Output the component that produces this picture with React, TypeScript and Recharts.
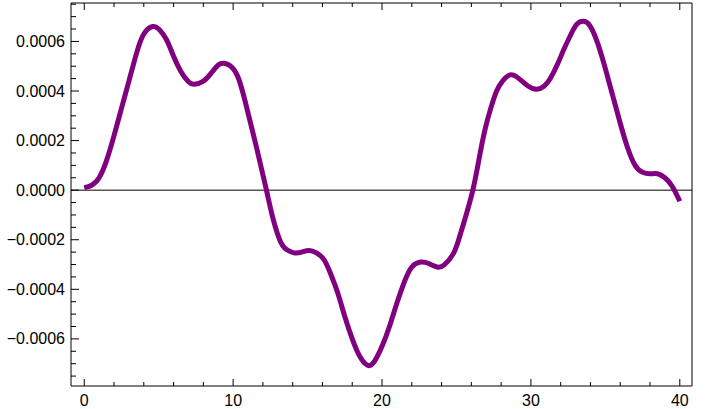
import { LineChart, Line, XAxis, YAxis, ReferenceLine } from "recharts";

const xs = [
  0, 0.5, 1, 1.5, 2, 2.5, 3, 3.5, 4, 4.6, 5, 5.5, 6, 6.5, 7, 7.4, 8, 8.5, 9, 9.4, 9.8, 10.3, 10.8, 11.5,
  12.2, 12.7, 13.2, 13.6, 14.1, 14.6, 15.1, 15.6, 16.1, 16.5, 17, 17.5, 18, 18.5, 19.05, 19.5, 20, 20.5,
  21, 21.5, 22, 22.6, 23.1, 23.7, 24.2, 24.8, 25.2, 25.6, 26.1, 26.5, 26.9, 27.3, 27.7, 28.1, 28.6, 29.2,
  29.8, 30.4, 30.9, 31.3, 31.8, 32.2, 32.7, 33.1, 33.55, 34, 34.5, 35, 35.5, 36, 36.5, 37, 37.5, 38, 38.5,
  39, 39.5, 40,
];

const ys = [
  0.00001, 0.00002, 0.00005, 0.00012, 0.00022, 0.00033, 0.00044, 0.00055, 0.00063, 0.00066, 0.00065,
  0.00061, 0.00054, 0.000478, 0.000437, 0.000427, 0.00044, 0.00047, 0.000505, 0.000512, 0.000502, 0.00046,
  0.00036, 0.00019, 0.00001, -0.00012, -0.00021, -0.00024, -0.000253, -0.00025, -0.000243, -0.000253,
  -0.00028, -0.00033, -0.00041, -0.00051, -0.0006, -0.00067, -0.000707, -0.00069, -0.00063, -0.00055,
  -0.000455, -0.00037, -0.00031, -0.00029, -0.000295, -0.00031, -0.0003, -0.000255, -0.00019, -0.00011,
  0.0, 0.00012, 0.00024, 0.00033, 0.0004, 0.00044, 0.000465, 0.00045, 0.00042, 0.000407, 0.00042, 0.00045,
  0.00051, 0.000566, 0.00063, 0.00067, 0.000681, 0.00066, 0.00059, 0.00049, 0.00038, 0.00027, 0.00017,
  0.0001, 0.000072, 0.000066, 0.000066, 0.00005, 0.000015, -0.000045,
];

const xTicks = [0, 2, 4, 6, 8, 10, 12, 14, 16, 18, 20, 22, 24, 26, 28, 30, 32, 34, 36, 38, 40];
const xMajor = [0, 10, 20, 30, 40];
const yTicks = [
  -0.00075, -0.0007, -0.00065, -0.0006, -0.00055, -0.0005, -0.00045, -0.0004, -0.00035, -0.0003, -0.00025,
  -0.0002, -0.00015, -0.0001, -0.00005, 0, 0.00005, 0.0001, 0.00015, 0.0002, 0.00025, 0.0003, 0.00035,
  0.0004, 0.00045, 0.0005, 0.00055, 0.0006, 0.00065, 0.0007, 0.00075,
];
const yMajor = [-0.0006, -0.0004, -0.0002, 0, 0.0002, 0.0004, 0.0006];

const data = xs.map((x, i) => ({ x, y: ys[i] }));

const font = "'Liberation Sans', Arial, sans-serif";
const isMajorX = (v: number) => xMajor.some((m) => Math.abs(m - v) < 1e-9);
const isMajorY = (v: number) => yMajor.some((m) => Math.abs(m - v) < 1e-9);
const fmtY = (v: number) => (v < 0 ? "\u2212" : "") + Math.abs(v).toFixed(4);

function BottomTick(props: any) {
  const { x, y, payload } = props;
  const major = isMajorX(payload.value);
  const ay = y - 8;
  return (
    <g>
      <line x1={x} x2={x} y1={ay} y2={ay - (major ? 7 : 4)} stroke="#000" />
      {major && (
        <text x={x} y={y + 12} textAnchor="middle" fontSize={16} fontFamily={font} fill="#000">
          {payload.value}
        </text>
      )}
    </g>
  );
}

function TopTick(props: any) {
  const { x, y, payload } = props;
  const major = isMajorX(payload.value);
  const ay = y + 8;
  return <line x1={x} x2={x} y1={ay} y2={ay + (major ? 7 : 4)} stroke="#000" />;
}

function LeftTick(props: any) {
  const { x, y, payload } = props;
  const major = isMajorY(payload.value);
  const ax = x + 6;
  return (
    <g>
      <line x1={ax} x2={ax + (major ? 8 : 5)} y1={y} y2={y} stroke="#000" />
      {major && (
        <text x={x} y={y + 5.5} textAnchor="end" fontSize={16} fontFamily={font} fill="#000">
          {fmtY(payload.value)}
        </text>
      )}
    </g>
  );
}

function RightTick(props: any) {
  const { x, y, payload } = props;
  const major = isMajorY(payload.value);
  const ax = x - 6;
  return <line x1={ax} x2={ax - (major ? 8 : 5)} y1={y} y2={y} stroke="#000" />;
}

export default function App() {
  return (
    <div style={{ position: "fixed", left: 0, top: 0, width: 723, height: 409, background: "#fff" }}>
      <LineChart width={723} height={409} data={data} margin={{ top: 0, right: 0, bottom: 0, left: 0 }}>
        <XAxis
          xAxisId="b"
          dataKey="x"
          type="number"
          domain={[-0.89, 40.82]}
          ticks={xTicks}
          tickSize={0}
          tickMargin={8}
          tickLine={false}
          interval={0}
          height={23}
          axisLine={{ stroke: "#000" }}
          tick={<BottomTick />}
        />
        <XAxis
          xAxisId="t"
          orientation="top"
          dataKey="x"
          type="number"
          domain={[-0.89, 40.82]}
          ticks={xTicks}
          tickSize={0}
          tickMargin={8}
          tickLine={false}
          interval={0}
          height={3}
          axisLine={{ stroke: "#000" }}
          tick={<TopTick />}
        />
        <YAxis
          yAxisId="l"
          type="number"
          domain={[-0.00079, 0.000755]}
          ticks={yTicks}
          tickSize={0}
          tickMargin={6}
          tickLine={false}
          interval={0}
          width={71}
          axisLine={{ stroke: "#000" }}
          tick={<LeftTick />}
        />
        <YAxis
          yAxisId="r"
          orientation="right"
          type="number"
          domain={[-0.00079, 0.000755]}
          ticks={yTicks}
          tickSize={0}
          tickMargin={6}
          tickLine={false}
          interval={0}
          width={31}
          axisLine={{ stroke: "#000" }}
          tick={<RightTick />}
        />
        <ReferenceLine xAxisId="b" yAxisId="l" y={0} stroke="#000" strokeWidth={1} />
        <Line
          xAxisId="b"
          yAxisId="l"
          dataKey="y"
          type="natural"
          stroke="#800080"
          strokeWidth={5}
          dot={false}
          isAnimationActive={false}
        />
      </LineChart>
    </div>
  );
}
